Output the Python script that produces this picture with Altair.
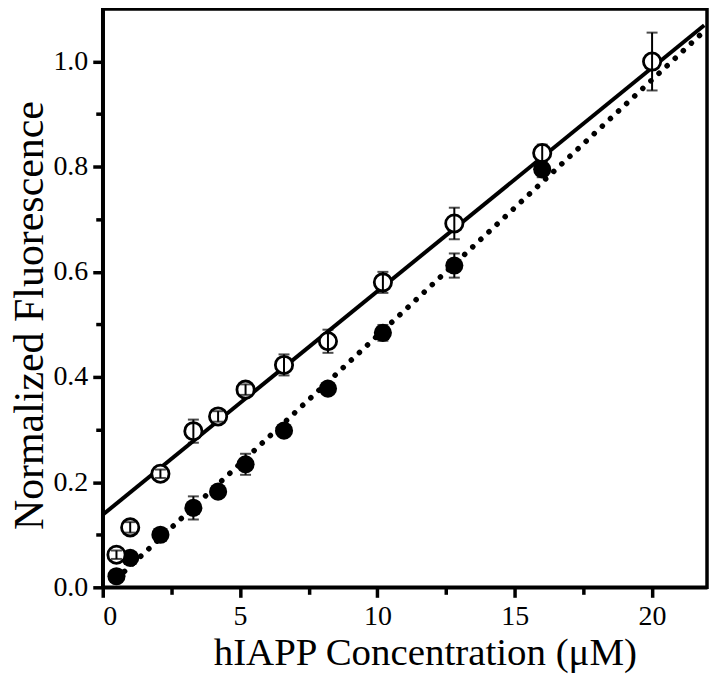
import altair as alt
import pandas as pd

# --- data ---
conc = [0.5, 1.0, 2.1, 3.3, 4.2, 5.2, 6.6, 8.2, 10.2, 12.8, 16.0, 20.0]
open_y = [0.062, 0.114, 0.216, 0.297, 0.325, 0.376, 0.423, 0.468, 0.580, 0.692, 0.826, 1.000]
open_err = [0.008, 0.010, 0.008, 0.022, 0.010, 0.010, 0.020, 0.022, 0.020, 0.030, 0.016, 0.055]

conc_f = [0.5, 1.0, 2.1, 3.3, 4.2, 5.2, 6.6, 8.2, 10.2, 12.8, 16.0]
filled_y = [0.021, 0.056, 0.100, 0.151, 0.182, 0.234, 0.298, 0.378, 0.484, 0.612, 0.795]
filled_err = [0.010, 0.010, 0.010, 0.022, 0.010, 0.020, 0.010, 0.010, 0.015, 0.023, 0.015]

fit_open_x = [0.0, 21.9]
fit_open_y = [0.138, 1.069]
fit_filled_x = [0.5, 21.8]
fit_filled_y = [0.016, 1.053]

x_ticks = [0, 2.5, 5, 7.5, 10, 12.5, 15, 17.5, 20]
y_ticks = [0.0, 0.1, 0.2, 0.3, 0.4, 0.5, 0.6, 0.7, 0.8, 0.9, 1.0]

open_df = pd.DataFrame({"x": conc, "y": open_y,
                        "lo": [a - b for a, b in zip(open_y, open_err)],
                        "hi": [a + b for a, b in zip(open_y, open_err)]})
filled_df = pd.DataFrame({"x": conc_f, "y": filled_y,
                          "lo": [a - b for a, b in zip(filled_y, filled_err)],
                          "hi": [a + b for a, b in zip(filled_y, filled_err)]})
fo_df = pd.DataFrame({"x": fit_open_x, "y": fit_open_y})
ff_df = pd.DataFrame({"x": fit_filled_x, "y": fit_filled_y})

FONT = "Liberation Serif"

xscale = alt.Scale(domain=[0, 22], nice=False, zero=False)
yscale = alt.Scale(domain=[0, 1.1], nice=False, zero=False)

xaxis = alt.Axis(values=x_ticks, title="hIAPP Concentration (\u03bcM)",
                 labelExpr="datum.value % 5 === 0 ? datum.label : ''",
                 tickSize={"condition": {"test": "datum.value % 5 === 0", "value": 10}, "value": 7},
                 grid=False, titleFontSize=39, titlePadding=3, labelPadding=5,
                 titleX=323, titleAnchor="middle")
yaxis = alt.Axis(values=y_ticks, title="Normalized Fluorescence",
                 labelExpr="round(datum.value * 10) % 2 === 0 ? format(datum.value, '.1f') : ''",
                 tickSize={"condition": {"test": "round(datum.value * 10) % 2 === 0", "value": 10}, "value": 7},
                 grid=False, titleFontSize=42, titlePadding=1, labelPadding=5,
                 titleY=307)

X = alt.X("x:Q", scale=xscale, axis=xaxis)
Y = alt.Y("y:Q", scale=yscale, axis=yaxis)

line_open = alt.Chart(fo_df).mark_line(color="black", strokeWidth=4).encode(x=X, y=Y)
line_filled = alt.Chart(ff_df).mark_line(
    color="black", strokeWidth=5.5, strokeDash=[0.1, 11], strokeCap="round"
).encode(x=X, y=Y)

def errbars(df):
    rule = alt.Chart(df).mark_rule(color="black", strokeWidth=2).encode(
        x=X, y=alt.Y("lo:Q", scale=yscale), y2="hi:Q")
    cap_lo = alt.Chart(df).mark_tick(color="black", orient="horizontal", size=11, thickness=2).encode(
        x=X, y=alt.Y("lo:Q", scale=yscale))
    cap_hi = alt.Chart(df).mark_tick(color="black", orient="horizontal", size=11, thickness=2).encode(
        x=X, y=alt.Y("hi:Q", scale=yscale))
    return rule + cap_lo + cap_hi

filled_pts = alt.Chart(filled_df).mark_point(
    shape="circle", filled=True, color="black", size=330, opacity=1
).encode(x=X, y=Y)
open_pts = alt.Chart(open_df).mark_point(
    shape="circle", filled=False, fill="white", fillOpacity=1, stroke="black", strokeWidth=2.8, size=300, opacity=1
).encode(x=X, y=Y)

chart = alt.layer(
    line_open, line_filled, errbars(filled_df), filled_pts, open_pts, errbars(open_df)
).properties(
    width=606, height=580,
    autosize=alt.AutoSizeParams(type="none"),
    padding={"left": 95, "top": 0, "right": 5, "bottom": 100},
).configure_view(
    stroke="black", strokeWidth=3.5
).configure_axis(
    domainColor="black", domainWidth=3.5, tickColor="black", tickWidth=3.5,
    labelFont=FONT, labelFontSize=28, labelColor="black",
    titleFont=FONT, titleFontWeight="normal", titleColor="black",
)

chart.save("out.html", embed_options={"renderer": "svg", "actions": False})
